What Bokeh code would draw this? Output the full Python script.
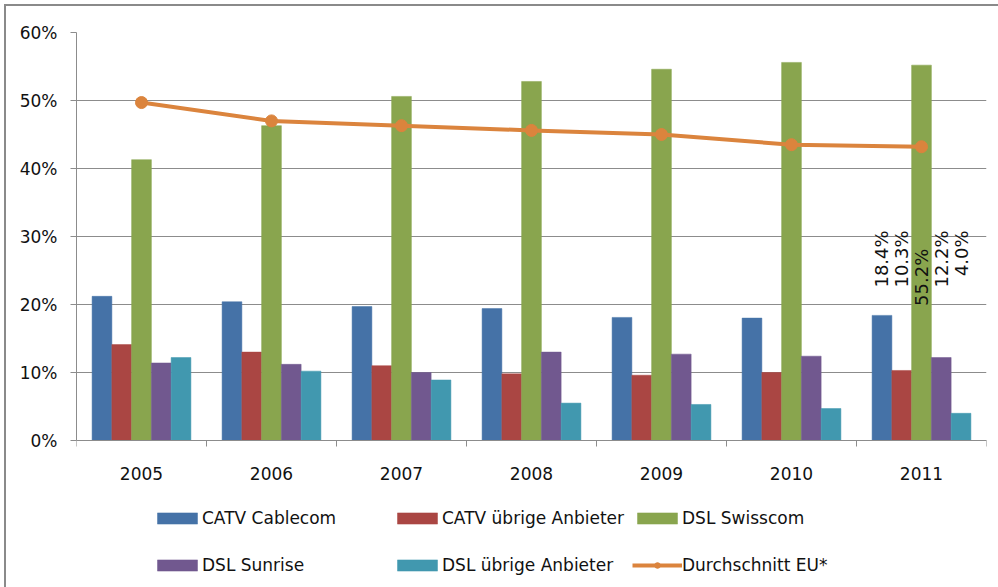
import math
from bokeh.plotting import figure
from bokeh.models import Range1d, FixedTicker, Legend, LegendItem, ColumnDataSource
from bokeh.core.properties import value
from bokeh.embed import file_html
from bokeh.resources import INLINE

# ---- data ----
years = ["2005", "2006", "2007", "2008", "2009", "2010", "2011"]
catv_cablecom = [21.2, 20.4, 19.7, 19.4, 18.1, 18.0, 18.4]
catv_uebrige = [14.1, 13.0, 11.0, 9.8, 9.6, 10.0, 10.3]
dsl_swisscom = [41.3, 46.3, 50.6, 52.8, 54.6, 55.6, 55.2]
dsl_sunrise = [11.4, 11.2, 10.0, 13.0, 12.7, 12.4, 12.2]
dsl_uebrige = [12.2, 10.2, 8.9, 5.5, 5.3, 4.7, 4.0]
eu_average = [49.7, 47.0, 46.3, 45.6, 45.0, 43.5, 43.2]

series_names = ["CATV Cablecom", "CATV übrige Anbieter", "DSL Swisscom",
                "DSL Sunrise", "DSL übrige Anbieter"]
line_name = "Durchschnitt EU*"
last_labels = ["18.4%", "10.3%", "55.2%", "12.2%", "4.0%"]
y_ticks = [0, 10, 20, 30, 40, 50, 60]

colors = ["#4572A7", "#AA4643", "#89A54E", "#71588F", "#4198AF"]
line_color = "#DB843D"
FONT = "DejaVu Sans"
TXT = "#111111"
GRID = "#8c8c8c"

# frame: 60% at top, 0% 408px lower; frame continues 147px below 0 to hold the legend
PLOT_H, BELOW = 408, 147
y_min = -60 * BELOW / PLOT_H

p = figure(width=992, height=581, output_backend="svg", toolbar_location=None,
           x_range=Range1d(-0.5, 6.5), y_range=Range1d(y_min, 60),
           frame_width=910, frame_height=PLOT_H + BELOW,
           min_border_left=70, min_border_right=12, min_border_top=26, min_border_bottom=0)
p.styles = {"border-left": "2px solid #8a8a8a", "border-top": "2px solid #8a8a8a",
            "margin-left": "4px", "margin-top": "4px"}
p.outline_line_color = None
p.background_fill_color = "white"
p.border_fill_color = "white"

xs = list(range(len(years)))
bar_w = 0.152
offsets = [-2 * bar_w, -bar_w, 0.0, bar_w, 2 * bar_w]
all_series = [catv_cablecom, catv_uebrige, dsl_swisscom, dsl_sunrise, dsl_uebrige]
bar_renderers = []
for vals, off, col in zip(all_series, offsets, colors):
    src = ColumnDataSource(dict(x=[x + off for x in xs], top=vals))
    r = p.vbar(x="x", top="top", width=bar_w, bottom=0, source=src,
               fill_color=col, line_color=col, line_width=0.5)
    bar_renderers.append(r)

lsrc = ColumnDataSource(dict(x=xs, y=eu_average))
lr = p.line("x", "y", source=lsrc, line_color=line_color, line_width=4)
sr = p.scatter("x", "y", source=lsrc, size=12, fill_color=line_color, line_color=line_color)

# rotated data labels on last year
lab_x = [xs[-1] + off for off in offsets]
lab_top = [30.9, 30.9, 28.2, 30.9, 30.9]
p.text(x=lab_x, y=lab_top, text=last_labels, angle=math.pi / 2,
       text_align="right", text_baseline="middle",
       text_font=value(FONT), text_font_size="18px", text_color=TXT)

# axes
p.xgrid.visible = False
p.ygrid.ticker = FixedTicker(ticks=y_ticks)
p.ygrid.grid_line_color = GRID
p.ygrid.grid_line_width = 1

p.yaxis.ticker = FixedTicker(ticks=y_ticks)
p.yaxis.major_label_overrides = {t: f"{t}%" for t in y_ticks}
p.yaxis.major_tick_out = 6
p.yaxis.major_tick_in = 0
p.yaxis.major_label_standoff = 13
p.yaxis.bounds = (0, 60)

p.xaxis.fixed_location = 0
p.xaxis.ticker = FixedTicker(ticks=xs, minor_ticks=[x - 0.5 for x in xs] + [xs[-1] + 0.5])
p.xaxis.major_label_overrides = {x: y for x, y in zip(xs, years)}
p.xaxis.major_tick_out = 0
p.xaxis.major_tick_in = 0
p.xaxis.minor_tick_out = 6
p.xaxis.minor_tick_in = 0
p.xaxis.major_label_standoff = 20

for ax in (p.xaxis, p.yaxis):
    ax.axis_line_color = GRID
    ax.major_tick_line_color = GRID
    ax.major_label_text_font = FONT
    ax.major_label_text_font_size = "17px"
    ax.major_label_text_color = TXT
p.xaxis.minor_tick_line_color = GRID
p.yaxis.minor_tick_line_color = None

items = [LegendItem(label=n, renderers=[r]) for n, r in zip(series_names, bar_renderers)]
items.append(LegendItem(label=line_name, renderers=[lr, sr]))
legend = Legend(items=items, ncols=3, orientation="horizontal",
                location=(76, -1), glyph_width=50, glyph_height=14,
                label_standoff=0, label_height=47, label_width=190,
                padding=0, margin=0, spacing=0,
                border_line_color=None, background_fill_alpha=0,
                label_text_font=FONT, label_text_font_size="17px",
                label_text_color=TXT)
p.add_layout(legend, "center")

open("out.html", "w").write(file_html(p, INLINE))
